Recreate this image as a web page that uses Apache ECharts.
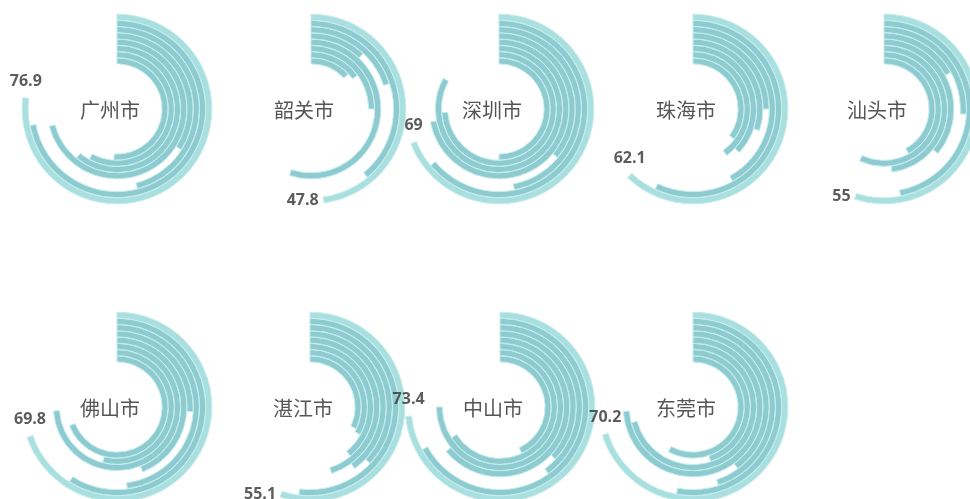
<!DOCTYPE html>
<html><head><meta charset="utf-8">
<script src="https://cdn.jsdelivr.net/npm/echarts@6/dist/echarts.min.js"></script>
<style>html,body{margin:0;padding:0;background:#fff}#c{width:970px;height:499px}</style>
</head><body><div id="c"></div>
<script>
const cities = ['广州市','韶关市','深圳市','珠海市','汕头市','佛山市','湛江市','中山市','东莞市'];
const totals = [76.9, 47.8, 69, 62.1, 55, 69.8, 55.1, 73.4, 70.2];
const ring1 = [72, 39, 64, 57, 47, 59, 52, 67, 53];
const ring2 = [46, 20, 47, 42, 26, 48, 37, 40, 45];
const ring3 = [34, 12, 36, 25, 17, 26, 40, 37, 40];
const ring4 = [71, 55, 72, 30, 36, 44, 45, 64, 74];
const ring5 = [61, 25, 83, 37, 48, 74, 39, 75, 71];
const ring6 = [58, 15, 74, 40, 57, 54, 33, 66, 45];
const ring7 = [51, 13, 50, 35, 42, 69, 32, 43, 58];
const ringNames = ['r7','r6','r5','r4','r3','r2','r1','r0'];

const centers = [[117,109],[311,109],[499,109],[693,109],[884,109],[117,407],[310,407],[500,407],[693,407]];
const rOuter = 95, rInner = 45;

const polar = [], angleAxis = [], radiusAxis = [], series = [], titles = [];
cities.forEach((name, i) => {
  polar.push({center: centers[i], radius: [rInner, rOuter]});
  angleAxis.push({polarIndex: i, type:'value', min:0, max:100, startAngle:90, clockwise:true, show:false});
  radiusAxis.push({polarIndex: i, type:'category', data: ringNames, show:false});
  const inner = [ring7[i], ring6[i], ring5[i], ring4[i], ring3[i], ring2[i], ring1[i]];
  const data = inner.map(v => ({value: v, itemStyle:{color:'#8ecbd0'}}));
  data.push({value: totals[i], itemStyle:{color:'#aadfe0'}});
  series.push({
    type:'bar', coordinateSystem:'polar', polarIndex:i, data: data,
    barWidth: 6, barGap:'0%', silent:true, animation:false,
    itemStyle:{borderColor:'#c4ecec', borderWidth:1}
  });
  const ang = totals[i] * 3.6;
  series.push({
    type:'scatter', coordinateSystem:'polar', polarIndex:i, symbolSize:0, silent:true, animation:false,
    data: [[7, totals[i]]],
    label:{show:true, position: ang < 210 ? 'left' : 'top', distance: ang < 210 ? 5 : 9,
      formatter: String(totals[i]), fontFamily:'Open Sans, Lato, sans-serif', fontWeight:'bold', fontSize:16, color:'#333'}
  });
  titles.push({text: name, left: centers[i][0] - 12, top: centers[i][1] - 4, textAlign:'center', textVerticalAlign:'middle',
    textStyle:{fontFamily:'Noto Sans CJK SC', fontWeight:'normal', fontSize:20, color:'#555'}});
});

const chart = echarts.init(document.getElementById('c'), null, {renderer:'canvas'});
chart.setOption({animation:false, title: titles, polar, angleAxis, radiusAxis, series});
</script></body></html>
